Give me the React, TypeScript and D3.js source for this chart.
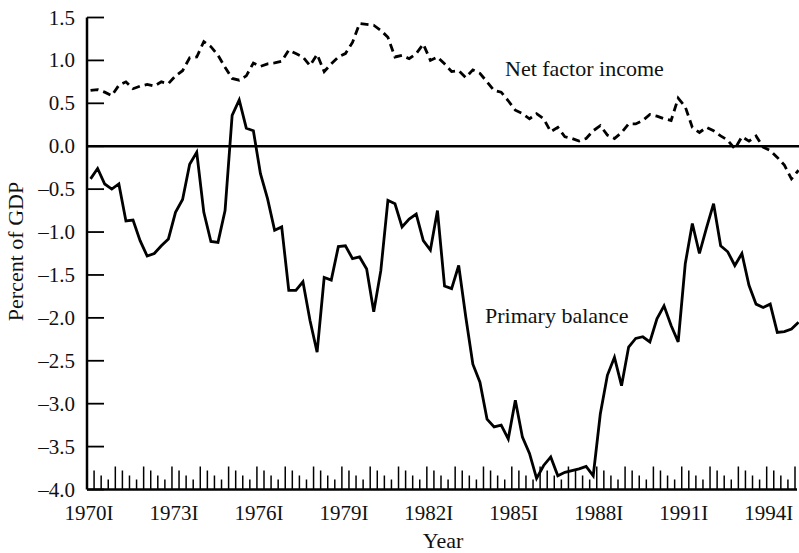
import React from "react";
import * as d3 from "d3";

// quarterly, 1970 I .. 1995 I
const netFactorIncome = [
  0.65, 0.66, 0.63, 0.59, 0.71, 0.75, 0.67, 0.7, 0.72, 0.7,
  0.75, 0.73, 0.82, 0.88, 1.03, 1.04, 1.22, 1.16, 1.06, 0.92,
  0.79, 0.77, 0.82, 0.97, 0.93, 0.96, 0.97, 0.99, 1.12, 1.08,
  1.04, 0.94, 1.07, 0.87, 0.96, 1.04, 1.08, 1.21, 1.43, 1.42,
  1.41, 1.35, 1.27, 1.04, 1.06, 1.02, 1.08, 1.19, 1.0, 1.04,
  0.96, 0.87, 0.88, 0.8, 0.89, 0.85, 0.75, 0.65, 0.63, 0.53,
  0.42, 0.38, 0.32, 0.38, 0.32, 0.17, 0.22, 0.11, 0.09, 0.06,
  0.09, 0.18, 0.24, 0.13, 0.09, 0.16, 0.26, 0.26, 0.3, 0.37,
  0.35, 0.32, 0.3, 0.56, 0.46, 0.22, 0.16, 0.22, 0.18, 0.12,
  0.07, -0.03, 0.11, 0.06, 0.12, -0.01, -0.05, -0.13, -0.22, -0.38,
  -0.28,
];

const primaryBalance = [
  -0.38, -0.26, -0.44, -0.5, -0.44, -0.87, -0.86, -1.1, -1.28, -1.25,
  -1.16, -1.08, -0.77, -0.62, -0.21, -0.07, -0.77, -1.11, -1.12, -0.75,
  0.36, 0.54, 0.21, 0.18, -0.32, -0.61, -0.98, -0.94, -1.68, -1.68,
  -1.58, -2.03, -2.4, -1.53, -1.56, -1.17, -1.16, -1.31, -1.29, -1.43,
  -1.93, -1.45, -0.63, -0.67, -0.94, -0.85, -0.79, -1.1, -1.21, -0.75,
  -1.63, -1.66, -1.39, -1.99, -2.54, -2.75, -3.18, -3.27, -3.25, -3.41,
  -2.96, -3.39, -3.58, -3.87, -3.72, -3.62, -3.84, -3.8, -3.78, -3.76,
  -3.73, -3.84, -3.12, -2.67, -2.46, -2.79, -2.34, -2.24, -2.22, -2.28,
  -2.01, -1.86, -2.09, -2.28, -1.37, -0.9, -1.25, -0.95, -0.67, -1.16,
  -1.23, -1.39, -1.25, -1.62, -1.84, -1.88, -1.84, -2.17, -2.16, -2.13,
  -2.05,
];

const labelYears = [1970, 1973, 1976, 1979, 1982, 1985, 1988, 1991, 1994];
const yTicks = [1.5, 1.0, 0.5, 0.0, -0.5, -1.0, -1.5, -2.0, -2.5, -3.0, -3.5, -4.0];

const W = 799;
const H = 553;
const FONT = "'Liberation Serif', 'DejaVu Serif', serif";

export default function App() {
  const x = d3.scaleLinear().domain([1970, 1995]).range([87, 795]);
  const y = d3.scaleLinear().domain([-4, 1.5]).range([489.5, 17.5]);

  // points sit in the middle of each quarter
  const t = (i: number) => 1970 + (i + 0.5) / 4;
  const line = d3
    .line<number>()
    .x((_, i) => x(t(i)))
    .y((d) => y(d));

  const fmt = (v: number) => d3.format(".1f")(v).replace("−", "–");
  const quarterTicks = d3.range(1, 101).map((k) => 1970 + k / 4);
  const tickLen = [23, 19, 14, 10];

  return (
    <svg
      width={W}
      height={H}
      style={{ position: "absolute", left: 0, top: 0, background: "#fff" }}
      fontFamily={FONT}
    >
      {/* y axis */}
      <line x1={x(1970)} x2={x(1970)} y1={y(1.5)} y2={y(-4)} stroke="#000" strokeWidth={2.5} />
      {yTicks.map((v) => (
        <g key={v}>
          <line x1={x(1970)} x2={x(1970) + 17} y1={y(v)} y2={y(v)} stroke="#000" strokeWidth={1.8} />
          <text x={75} y={y(v) + 7} textAnchor="end" fontSize={21} fill="#111">
            {fmt(v)}
          </text>
        </g>
      ))}

      {/* x axis */}
      <line x1={x(1970)} x2={x(1995) + 2} y1={y(-4)} y2={y(-4)} stroke="#000" strokeWidth={2.5} />
      {quarterTicks.map((q, k) => (
        <line
          key={q}
          x1={x(q)}
          x2={x(q)}
          y1={y(-4)}
          y2={y(-4) - tickLen[(k + 1) % 4]}
          stroke="#000"
          strokeWidth={1.5}
        />
      ))}
      {labelYears.map((yr) => (
        <text key={yr} x={x(yr) + 2} y={520} textAnchor="middle" fontSize={21} fill="#111">
          {`${yr}I`}
        </text>
      ))}

      {/* zero line */}
      <line x1={x(1970)} x2={W} y1={y(0)} y2={y(0)} stroke="#000" strokeWidth={2.5} />

      <path d={line(netFactorIncome) ?? ""} fill="none" stroke="#000" strokeWidth={2.8} strokeDasharray="8,5" />
      <path d={line(primaryBalance) ?? ""} fill="none" stroke="#000" strokeWidth={2.8} strokeLinejoin="miter" />

      <text x={505} y={76} fontSize={22} fill="#111">Net factor income</text>
      <text x={485} y={323} fontSize={22} fill="#111">Primary balance</text>

      <text x={443} y={548} textAnchor="middle" fontSize={22} fill="#111">Year</text>
      <text
        transform={`translate(23,${(y(1.5) + y(-4)) / 2 - 2}) rotate(-90)`}
        textAnchor="middle"
        fontSize={22}
        fill="#111"
      >
        Percent of GDP
      </text>
    </svg>
  );
}
